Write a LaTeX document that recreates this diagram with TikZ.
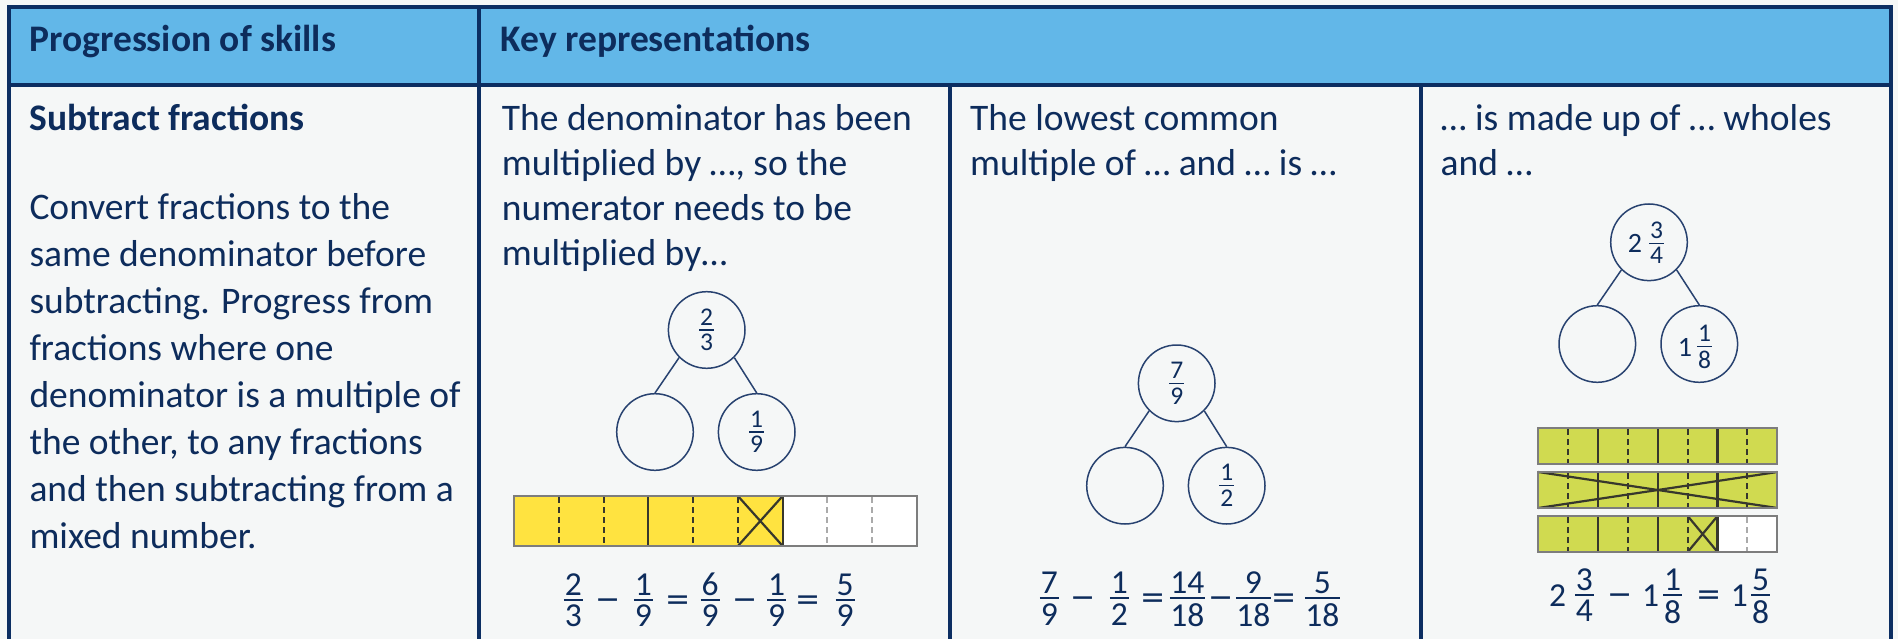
\documentclass[tikz,border=0pt]{standalone}
\usepackage{fontspec}
\setmainfont{Carlito}
\newfontfamily\opfont{DejaVu Sans}
\definecolor{navy}{RGB}{12,46,98}
\definecolor{ink}{RGB}{13,44,92}
\definecolor{hdr}{RGB}{98,183,232}
\definecolor{bg}{RGB}{245,247,247}
\definecolor{ylw}{RGB}{255,227,64}
\definecolor{lime}{RGB}{208,218,80}
\definecolor{circ}{RGB}{40,66,112}
\definecolor{barline}{RGB}{55,55,45}
\definecolor{barout}{RGB}{125,125,125}
\definecolor{lgray}{RGB}{170,170,170}
\tikzset{
 tline/.style={draw=navy, line width=4},
 body/.style={font=\fontsize{37.5}{45}\selectfont, text=ink, inner sep=0, anchor=base west},
 bodyb/.style={font=\fontsize{37.5}{45}\selectfont\bfseries, text=ink, inner sep=0, anchor=base west},
 ring/.style={circle, draw=circ, line width=1.5, minimum size=76.6, inner sep=0},
 link/.style={draw=circ, line width=1.5},
 fnum/.style={font=\fontsize{33.5}{40}\selectfont, text=ink, inner sep=0},
 fop/.style={font=\fontsize{30}{36}\selectfont\opfont, text=ink, inner sep=0},
 snum/.style={font=\fontsize{25.5}{30}\selectfont, text=ink, inner sep=0},
 wnum/.style={font=\fontsize{28}{33}\selectfont, text=ink, inner sep=0},
 fbar/.style={draw=ink, line width=2},
 sbar/.style={draw=ink, line width=1.5},
 dline/.style={draw=barline, line width=2, dash pattern=on 6pt off 4pt},
 lline/.style={draw=lgray, line width=2, dash pattern=on 6pt off 4pt},
 sline/.style={draw=barline, line width=2.2},
 outl/.style={draw=barout, line width=2},
}
\newcommand\bfr[6]{%
 \node[fnum,anchor=base] (#1n) at (#2,#3-5) {#4};
 \node[fnum,anchor=north] (#1d) at (#2,#3+5) {#5};
 \draw[fbar] (#2-#6,#3) -- (#2+#6,#3);}
\newcommand\sfr[6]{%
 \node[snum,anchor=base] (#1n) at (#2,#3-5) {#4};
 \node[snum,anchor=north] (#1d) at (#2,#3+4) {#5};
 \draw[sbar] (#2-#6,#3) -- (#2+#6,#3);}
\newcommand\opr[4]{\node[fop,anchor=base] (#1) at (#2,#3+9) {#4};}
\begin{document}
\begin{tikzpicture}[x=1pt,y=-1pt]
\useasboundingbox (0,0) rectangle (1898,639);
\fill[bg] (0,0) rectangle (1898,639);
\fill[hdr] (8.7,7) rectangle (1891.3,85);
% table rules
\draw[tline] (8.7,641) -- (8.7,7) -- (1891.3,7) -- (1891.3,641);
\draw[tline] (8.7,85) -- (1891.3,85);
\draw[tline] (479.3,7) -- (479.3,641);
\draw[tline] (950,85) -- (950,641);
\draw[tline] (1420.5,85) -- (1420.5,641);
% header
\node[bodyb] (h1) at (29.3,51.5) {Progression of skills};
\node[bodyb] (h2) at (500.5,51.5) {Key representations};
% column 1
\node[bodyb] (t1) at (29.3,130.5) {Subtract fractions};
\foreach \t [count=\i from 0] in {{Convert fractions to the},{same denominator before},{subtracting. Progress from},{fractions where one},{denominator is a multiple of},{the other, to any fractions},{and then subtracting from a},{mixed number.}}
  \node[body] (p\i) at (29.3,219.5+47*\i) {\t};
% column 2 text
\foreach \t [count=\i from 0] in {{The denominator has been},{multiplied by …, so the},{numerator needs to be},{multiplied by…}}
  \node[body] (q\i) at (501.7,130.5+45*\i) {\t};
% column 3 text
\foreach \t [count=\i from 0] in {{The lowest common},{multiple of … and … is …}}
  \node[body] (r\i) at (970,130.5+45*\i) {\t};
% column 4 text
\foreach \t [count=\i from 0] in {{… is made up of … wholes},{and …}}
  \node[body] (s\i) at (1440.5,130.5+45*\i) {\t};

% ---------- column 2 diagram
\node[ring] (a0) at (706.7,330) {};
\node[ring] (a1) at (655,432) {};
\node[ring] (a2) at (756.7,432) {};
\draw[link] (a0.225) -- (a1.north);
\draw[link] (a0.-45) -- (a2.north);
\sfr{af0}{706.7}{330}{2}{3}{7.5}
\sfr{af2}{756.7}{432}{1}{9}{7.5}
% bar
\fill[ylw] (514,496) rectangle (514+6*44.78,546);
\fill[white] (514+6*44.78,496) rectangle (917,546);
\foreach \k in {1,2,4,5} \draw[dline] (514+\k*44.78,497) -- (514+\k*44.78,545);
\foreach \k in {3,6} \draw[sline] (514+\k*44.78,496) -- (514+\k*44.78,546);
\foreach \k in {7,8} \draw[lline] (514+\k*44.78,497) -- (514+\k*44.78,545);
\draw[sline] (514+5*44.78,496) -- (514+6*44.78,546) (514+5*44.78,546) -- (514+6*44.78,496);
\draw[outl] (514,496) rectangle (917,546);
% equation
\bfr{ae1}{573.3}{600}{2}{3}{9.5}
\opr{ao1}{608.3}{600}{−}
\bfr{ae2}{643.3}{600}{1}{9}{9.5}
\opr{ao2}{678.3}{600}{=}
\bfr{ae3}{710}{600}{6}{9}{9.5}
\opr{ao3}{745}{600}{−}
\bfr{ae4}{776.7}{600}{1}{9}{9.5}
\opr{ao4}{808.3}{600}{=}
\bfr{ae5}{845}{600}{5}{9}{9.5}

% ---------- column 3 diagram
\node[ring] (b0) at (1176.7,383.3) {};
\node[ring] (b1) at (1125,485.7) {};
\node[ring] (b2) at (1226.7,485.7) {};
\draw[link] (b0.225) -- (b1.north);
\draw[link] (b0.-45) -- (b2.north);
\sfr{bf0}{1176.7}{383.3}{7}{9}{7.5}
\sfr{bf2}{1226.7}{485.7}{1}{2}{7.5}
\bfr{be1}{1049.3}{598.3}{7}{9}{9.5}
\opr{bo1}{1083.3}{598.3}{−}
\bfr{be2}{1119.3}{598.3}{1}{2}{9.5}
\opr{bo2}{1153.3}{598.3}{=}
\bfr{be3}{1187.3}{598.3}{14}{18}{17.5}
\opr{bo3}{1220.7}{598.3}{−}
\bfr{be4}{1253.3}{598.3}{9}{18}{17.5}
\opr{bo4}{1284.3}{598.3}{=}
\bfr{be5}{1322.3}{598.3}{5}{18}{17.5}

% ---------- column 4 diagram
\node[ring] (c0) at (1649,242.3) {};
\node[ring] (c1) at (1597.3,344) {};
\node[ring] (c2) at (1699.3,344) {};
\draw[link] (c0.225) -- (c1.north);
\draw[link] (c0.-45) -- (c2.north);
\node[wnum,anchor=base] (cw0) at (1635,252.5) {2};
\sfr{cf0}{1656.5}{243.3}{3}{4}{7.5}
\node[wnum,anchor=base] (cw2) at (1685,356) {1};
\sfr{cf2}{1704.5}{346.7}{1}{8}{7.5}
% bars
\foreach \y/\n in {428/1,472/2,516/3} {
  \fill[lime] (1538.3,\y) rectangle (1777.3,\y+36);
  \foreach \k in {1,3,5,7} \draw[dline] (1538.3+\k*29.875,\y+1) -- (1538.3+\k*29.875,\y+35);
  \foreach \k in {2,4,6} \draw[sline] (1538.3+\k*29.875,\y) -- (1538.3+\k*29.875,\y+36);
}
\fill[white] (1538.3+6*29.875,516) rectangle (1777.3,552);
\draw[lline] (1538.3+7*29.875,517) -- (1538.3+7*29.875,551);
\draw[sline] (1538.3+6*29.875,516) -- (1538.3+6*29.875,552);
\draw[sline] (1538.3+5*29.875,516) -- (1538.3+6*29.875,552) (1538.3+5*29.875,552) -- (1538.3+6*29.875,516);
\draw[sline] (1538.3,472) -- (1777.3,508) (1538.3,508) -- (1777.3,472);
\foreach \y in {428,472,516} \draw[outl] (1538.3,\y) rectangle (1777.3,\y+36);
% equation
\node[fnum,anchor=base] (cw3) at (1557.7,606) {2};
\bfr{ce1}{1584.3}{595}{3}{4}{9.5}
\opr{co1}{1620}{595}{−}
\node[fnum,anchor=base] (cw4) at (1650.7,606) {1};
\bfr{ce2}{1672.7}{595}{1}{8}{9.5}
\opr{co2}{1709.3}{595}{=}
\node[fnum,anchor=base] (cw5) at (1739.3,606) {1};
\bfr{ce3}{1760.7}{595}{5}{8}{9.5}
\end{tikzpicture}
\end{document}
